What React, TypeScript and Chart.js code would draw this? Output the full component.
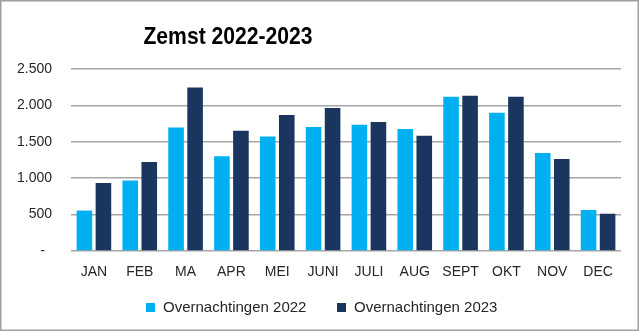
import React, { useEffect, useRef } from "react";
import { Chart, registerables } from "chart.js";

Chart.register(...registerables);

const months = ["JAN", "FEB", "MA", "APR", "MEI", "JUNI", "JULI", "AUG", "SEPT", "OKT", "NOV", "DEC"];
const values2022 = [555, 970, 1698, 1300, 1574, 1703, 1735, 1676, 2120, 1900, 1346, 563];
const values2023 = [934, 1222, 2247, 1652, 1868, 1964, 1772, 1584, 2133, 2120, 1264, 512];
const seriesLabels = ["Overnachtingen 2022", "Overnachtingen 2023"];
const titleText = "Zemst 2022-2023";
const yMax = 2500;
const yStep = 500;

const COLOR_2022 = "#00B0F0";
const COLOR_2023 = "#1B365E";
const FONT = "'Liberation Sans', Arial, sans-serif";

const formatTick = (v: number) => {
  if (v === 0) return "-\u2002";
  return v.toLocaleString("de-DE");
};

const decorPlugin = {
  id: "decor",
  beforeDraw(chart: any) {
    const ctx = chart.ctx;
    ctx.save();
    ctx.fillStyle = "#ffffff";
    ctx.fillRect(0, 0, chart.width, chart.height);
    ctx.restore();
  },
  afterDraw(chart: any) {
    const ctx = chart.ctx;
    ctx.save();
    // frame
    ctx.strokeStyle = "#a0a0a0";
    ctx.lineWidth = 1.5;
    ctx.strokeRect(0.75, 0.75, 637.5, 329.5);
    // title (slightly condensed to mimic the narrow original face)
    ctx.save();
    ctx.translate(228, 44);
    ctx.scale(0.88, 1);
    ctx.fillStyle = "#000000";
    ctx.font = `bold 24px ${FONT}`;
    ctx.textAlign = "center";
    ctx.textBaseline = "alphabetic";
    ctx.fillText(titleText, 0, 0);
    ctx.restore();
    // legend
    const colors = [COLOR_2022, COLOR_2023];
    const boxX = [146, 337];
    ctx.font = `15px ${FONT}`;
    ctx.textAlign = "left";
    ctx.textBaseline = "middle";
    for (let i = 0; i < 2; i++) {
      ctx.fillStyle = colors[i];
      ctx.fillRect(boxX[i], 303, 9, 9);
      ctx.fillStyle = "#262626";
      ctx.fillText(seriesLabels[i], boxX[i] + 17, 308);
    }
    ctx.restore();
  },
};

export default function App() {
  const ref = useRef<HTMLCanvasElement | null>(null);
  useEffect(() => {
    if (!ref.current) return;
    const chart = new Chart(ref.current, {
      type: "bar",
      data: {
        labels: months,
        datasets: [
          {
            label: seriesLabels[0],
            data: values2022,
            backgroundColor: COLOR_2022,
            categoryPercentage: 0.83,
            barPercentage: 0.82,
          },
          {
            label: seriesLabels[1],
            data: values2023,
            backgroundColor: COLOR_2023,
            categoryPercentage: 0.83,
            barPercentage: 0.82,
          },
        ],
      },
      options: {
        animation: false,
        responsive: false,
        maintainAspectRatio: false,
        layout: { padding: { top: 69, right: 19, bottom: 0, left: 0 } },
        plugins: {
          legend: { display: false },
          title: { display: false },
          tooltip: { enabled: false },
        },
        scales: {
          x: {
            grid: { display: false, drawTicks: false },
            border: { display: false },
            ticks: {
              color: "#262626",
              font: { family: FONT, size: 14 },
              padding: 13,
              maxRotation: 0,
            },
            afterFit: (scale: any) => {
              scale.height = 81;
            },
          },
          y: {
            min: 0,
            max: yMax,
            grid: { color: "#a6a6a6", lineWidth: 1.5, drawTicks: false },
            border: { display: false },
            ticks: {
              stepSize: yStep,
              color: "#262626",
              font: { family: FONT, size: 14 },
              padding: 19,
              callback: (v: any) => formatTick(Number(v)),
            },
            afterFit: (scale: any) => {
              scale.width = 71;
            },
          },
        },
      },
      plugins: [decorPlugin],
    });
    return () => chart.destroy();
  }, []);
  return (
    <div style={{ position: "fixed", left: 0, top: 0, width: 640, height: 332, background: "#fff" }}>
      <canvas ref={ref} width={640} height={332} style={{ width: 640, height: 332, display: "block" }} />
    </div>
  );
}
